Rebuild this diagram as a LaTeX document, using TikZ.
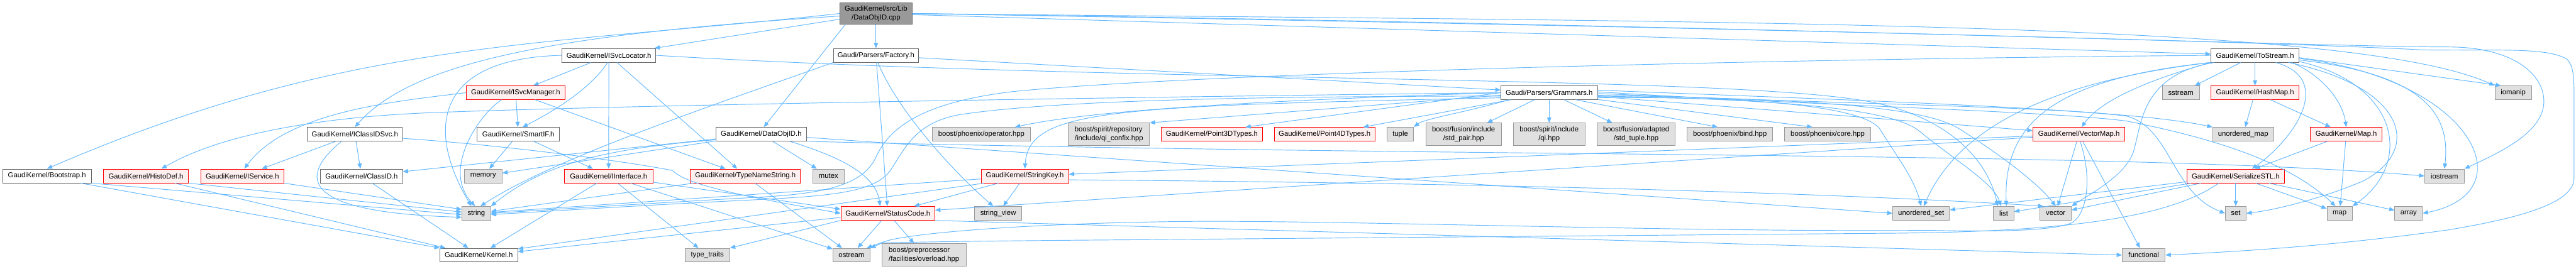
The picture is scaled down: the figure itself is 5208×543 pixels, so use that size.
\documentclass[tikz,border=0pt]{standalone}
\usepackage{fontspec}
\setmainfont{Liberation Sans}
\usetikzlibrary{arrows.meta}
\definecolor{ec}{HTML}{63B8FF}
\definecolor{bw}{HTML}{666666}
\definecolor{rf}{HTML}{FFF0F0}
\definecolor{gf}{HTML}{E0E0E0}
\definecolor{gb}{HTML}{999999}
\definecolor{mf}{HTML}{999999}
\newcommand\nfont{\fontsize{10.8}{12.7}\selectfont}
\tikzset{
  nb/.style={draw, line width=0.9pt, inner sep=0pt, font=\nfont, align=center},
  wst/.style={nb, draw=bw, fill=white},
  rst/.style={nb, draw=red, fill=rf},
  gst/.style={nb, draw=gb, fill=gf},
  mst/.style={nb, draw=bw, fill=mf},
  sz/.style n args={2}{minimum width={#1*0.75pt}, minimum height={#2*0.75pt}},
  edg/.style={draw=ec, line width=0.9pt, -{Triangle[length=8pt,width=6.5pt]}}
}
\begin{document}
\begin{tikzpicture}[x=0.75pt,y=-0.75pt]
\useasboundingbox (0,0) rectangle (5208,543);
\fill[white] (0,0) rectangle (5208,543);
% row 0 / 1 / 2
\node[mst, sz={146}{44.3}] (M) at (1771,27.4) {GaudiKernel/src/Lib\\/DataObjID.cpp};
\node[wst, sz={190}{27.7}] (isl) at (1231,112) {GaudiKernel/ISvcLocator.h};
\node[wst, sz={172}{27.7}] (fac) at (1771,112) {Gaudi/Parsers/Factory.h};
\node[wst, sz={178}{27.7}] (ts) at (4559,112) {GaudiKernel/ToStream.h};
\node[rst, sz={199}{27.4}] (ism) at (1042.5,187.5) {GaudiKernel/ISvcManager.h};
\node[wst, sz={195}{27.4}] (gr) at (3132,187.5) {Gaudi/Parsers/Grammars.h};
\node[gst, sz={75}{27.4}] (sst) at (4409,187.5) {sstream};
\node[rst, sz={178}{27.4}] (hm) at (4559,187.5) {GaudiKernel/HashMap.h};
\node[gst, sz={74}{27.4}] (iom) at (5081,187.5) {iomanip};
% row 3
\node[wst, sz={192}{27.7}] (icid) at (717.5,271.5) {GaudiKernel/IClassIDSvc.h};
\node[wst, sz={166}{27.7}] (sif) at (1048,271.5) {GaudiKernel/SmartIF.h};
\node[wst, sz={184}{27.7}] (doid) at (1539,271.5) {GaudiKernel/DataObjID.h};
\node[gst, sz={199}{27.7}] (bop) at (1984,271.5) {boost/phoenix/operator.hpp};
\node[gst, sz={164}{45}, align=left] (bqc) at (2242,271.5) {boost/spirit/repository\\/include/qi\_confix.hpp};
\node[rst, sz={204}{27.7}] (p3) at (2450,271.5) {GaudiKernel/Point3DTypes.h};
\node[rst, sz={204}{27.7}] (p4) at (2678,271.5) {GaudiKernel/Point4DTypes.h};
\node[gst, sz={54}{27.7}] (tup) at (2831,271.5) {tuple};
\node[gst, sz={153}{45}] (bsp) at (2959,271.5) {boost/fusion/include\\/std\_pair.hpp};
\node[gst, sz={145}{45}] (bqi) at (3132,271.5) {boost/spirit/include\\/qi.hpp};
\node[gst, sz={158}{45}] (bst) at (3308,271.5) {boost/fusion/adapted\\/std\_tuple.hpp};
\node[gst, sz={173}{27.7}] (bbi) at (3497.5,271.5) {boost/phoenix/bind.hpp};
\node[gst, sz={174}{27.7}] (bco) at (3695,271.5) {boost/phoenix/core.hpp};
\node[rst, sz={186}{27.7}] (vm) at (4203,271.5) {GaudiKernel/VectorMap.h};
\node[gst, sz={123}{27.7}] (umap) at (4535,271.5) {unordered\_map};
\node[rst, sz={145}{27.7}] (mapH) at (4743.5,271.5) {GaudiKernel/Map.h};
% row 4
\node[wst, sz={179}{28}] (boot) at (95,356) {GaudiKernel/Bootstrap.h};
\node[rst, sz={172.6}{28}] (hd) at (295,356) {GaudiKernel/HistoDef.h};
\node[rst, sz={168}{28}] (isv) at (490,356) {GaudiKernel/IService.h};
\node[wst, sz={165.5}{28}] (cid) at (731,356) {GaudiKernel/ClassID.h};
\node[gst, sz={76}{28}] (mem) at (977,356) {memory};
\node[rst, sz={179}{28}] (ii) at (1230.5,356) {GaudiKernel/IInterface.h};
\node[rst, sz={223}{28}] (tns) at (1507,356) {GaudiKernel/TypeNameString.h};
\node[gst, sz={63}{28}] (mtx) at (1675,356) {mutex};
\node[rst, sz={177}{28}] (sk) at (2072,356) {GaudiKernel/StringKey.h};
\node[rst, sz={196}{28}] (sstl) at (4520,356) {GaudiKernel/SerializeSTL.h};
\node[gst, sz={80}{28}] (ios) at (4942,356) {iostream};
% row 5
\node[gst, sz={58}{27.7}] (str) at (963,431.5) {string};
\node[rst, sz={190}{27.7}] (sc) at (1795,431.5) {GaudiKernel/StatusCode.h};
\node[gst, sz={96}{27.7}] (sv) at (2018,431.5) {string\_view};
\node[gst, sz={115}{27.7}] (uset) at (3884,431.5) {unordered\_set};
\node[gst, sz={41}{27.7}] (lst) at (4051,431.5) {list};
\node[gst, sz={63}{27.7}] (vec) at (4156,431.5) {vector};
\node[gst, sz={42}{27.7}] (sset) at (4520,431.5) {set};
\node[gst, sz={51}{27.7}] (mmap) at (4730,431.5) {map};
\node[gst, sz={56}{27.7}] (arr) at (4869.5,431.5) {array};
% row 6
\node[wst, sz={157}{27.4}] (ker) at (968,516) {GaudiKernel/Kernel.h};
\node[gst, sz={90.5}{27.4}] (tt) at (1430,516) {type\_traits};
\node[gst, sz={75}{27.4}] (ostr) at (1721.5,516) {ostream};
\node[gst, sz={170}{45}, align=left] (ovl) at (1868,515.5) {boost/preprocessor\\/facilities/overload.hpp};
\node[gst, sz={87}{27.4}] (func) at (4334,516) {functional};

% ---- edges: main file
\draw[edg] (M.west) .. controls (1079,95) and (703,79) .. (boot.north);
\draw[edg] (M.184) .. controls (1100,70) and (830,130) .. (icid.north);
\draw[edg] (M) -- (isl);
\draw[edg] (M.200) -- (doid.70);
\draw[edg] (M) -- (fac);
\draw[edg] (M) -- (ts);
\draw[edg] (M.east) .. controls (3500,45) and (4750,40) .. (iom.north west);
\draw[edg] (M.east) .. controls (3500,50) and (4700,95) .. (4950,95) .. controls (5080,95) and (5145,150) .. (5143,208) .. controls (5140,270) and (5050,310) .. (ios.north east);
\draw[edg] (M.east) .. controls (3500,55) and (4600,85) .. (4900,101) .. controls (5050,103) and (5150,95) .. (5190,120) .. controls (5204,135) and (5204,160) .. (5204,200) -- (5204,360) .. controls (5204,410) and (5100,440) .. (4950,465) .. controls (4700,500) and (4500,510) .. (func.east);
% ISvcLocator
\draw[edg] (isl) -- (ism);
\draw[edg] (isl.260) .. controls (1200,170) and (1140,215) .. (sif.60);
\draw[edg] (isl) -- (ii);
\draw[edg] (isl) -- (tns);
\draw[edg] (isl.west) .. controls (880,118) and (860,260) .. (str.125);
\draw[edg] (isl.east) .. controls (2300,170) and (3550,150) .. (3800,210) .. controls (3950,245) and (4020,330) .. (lst.130);
% ISvcManager
\draw[edg] (ism.west) .. controls (800,205) and (580,225) .. (isv.75);
\draw[edg] (ism) -- (sif);
\draw[edg] (ism) -- (tns);
\draw[edg] (ism.207) .. controls (975,225) and (890,340) .. (str.100);
% IClassIDSvc
\draw[edg] (icid) -- (isv);
\draw[edg] (icid) -- (cid);
\draw[edg] (icid.208) .. controls (600,360) and (610,430) .. (str.195);
\draw[edg] (icid.-5) .. controls (1000,292) and (1260,325) .. (1360,345) .. controls (1390,378) and (1550,405) .. (sc.west);
% Bootstrap, HistoDef, IService, ClassID
\draw[edg] (boot.south east) -- (str.185);
\draw[edg] (boot.-12) -- (ker.north west);
\draw[edg] (hd.south east) -- (str.175);
\draw[edg] (hd.-14) -- (ker.168);
\draw[edg] (isv.south east) -- (str.165);
\draw[edg] (cid) -- (ker);
% SmartIF
\draw[edg] (sif) -- (mem);
\draw[edg] (sif) -- (ii);
% DataObjID.h
\draw[edg] (doid) -- (cid);
\draw[edg] (doid) -- (mem);
\draw[edg] (doid.187) .. controls (1230,300) and (1100,330) .. (str.north east);
\draw[edg] (doid) -- (mtx);
\draw[edg] (doid.-14) .. controls (1690,315) and (1770,350) .. (sc.137);
\draw[edg] (doid.south east) .. controls (3000,320) and (4300,305) .. (ios.west);
\draw[edg] (doid.-4) -- (uset.west);
% Factory
\draw[edg] (fac) -- (gr);
\draw[edg] (fac) -- (sc);
\draw[edg] (fac.-75) .. controls (1815,225) and (1930,350) .. (sv.125);
\draw[edg] (fac.south west) .. controls (1450,210) and (1120,320) .. (str.60);
% StatusCode
\draw[edg] (sc) -- (ostr);
\draw[edg] (sc) -- (ovl);
\draw[edg] (sc.south west) -- (tt.north east);
\draw[edg] (sc.185) -- (ker.5);
\draw[edg] (sc.south east) -- (func.west);
% StringKey
\draw[edg] (sk) -- (sv);
\draw[edg] (sk) -- (sc);
\draw[edg] (sk) -- (str);
\draw[edg] (sk.190) -- (ker.9);
\draw[edg] (sk.-5) .. controls (3000,370) and (3700,390) .. (vec.150);
% IInterface
\draw[edg] (ii) -- (ker);
\draw[edg] (ii) -- (tt);
\draw[edg] (ii) -- (ostr);
\draw[edg] (ii.-8) -- (sc.175);
% TypeNameString
\draw[edg] (tns) -- (str);
\draw[edg] (tns) -- (ostr);
% Grammars
\draw[edg] (gr.west) .. controls (2000,200) and (1200,215) .. (870,228) .. controls (650,237) and (450,270) .. (hd.25);
\draw[edg] (gr.west) -- (p3.12);
\draw[edg] (gr) -- (p4);
\draw[edg] (gr.190) .. controls (2960,228) and (2880,240) .. (tup.north east);
\draw[edg] (gr) -- (bsp);
\draw[edg] (gr) -- (bqi);
\draw[edg] (gr) -- (bst);
\draw[edg] (gr.-15) -- (bbi.150);
\draw[edg] (gr.-8) -- (bco.155);
\draw[edg] (gr.west) .. controls (2500,205) and (2200,225) .. (bop.12);
\draw[edg] (gr.183) -- (bqc.north east);
\draw[edg] (gr.186) .. controls (2250,215) and (2080,220) .. (sk.north);
\draw[edg] (gr) -- (vm);
\draw[edg] (gr.-6) .. controls (3500,195) and (3760,210) .. (3800,260) .. controls (3830,310) and (3870,360) .. (uset.north);
\draw[edg] (gr.-4) .. controls (3550,200) and (3820,215) .. (3880,265) .. controls (3960,330) and (4030,370) .. (lst.110);
\draw[edg] (gr.-3) .. controls (3600,200) and (3880,210) .. (3960,260) .. controls (4040,310) and (4120,370) .. (vec.north);
\draw[edg] (gr.1) .. controls (3700,215) and (4150,225) .. (4300,245) .. controls (4450,275) and (4620,320) .. (mmap.120);
\draw[edg] (gr.-1) .. controls (3700,210) and (4150,215) .. (4300,235) .. controls (4390,260) and (4390,390) .. (sset.west);
\draw[edg] (gr.3) .. controls (3800,205) and (4300,220) .. (umap.north west);
\draw[edg] (gr.184) .. controls (2600,195) and (2150,200) .. (1940,232) .. controls (1850,248) and (1830,300) .. (1800,345) .. controls (1770,385) and (1700,395) .. (1550,403) .. controls (1300,415) and (1100,428) .. (str.-5);
% ToStream
\draw[edg] (ts) -- (sst);
\draw[edg] (ts) -- (hm);
\draw[edg] (ts.-19) .. controls (4720,160) and (4640,280) .. (sstl.24);
\draw[edg] (ts.-11) .. controls (4690,150) and (4735,200) .. (mapH.north);
\draw[edg] (ts.-8) .. controls (4850,170) and (4880,330) .. (mmap.north east);
\draw[edg] (ts.-12) .. controls (4860,175) and (4900,300) .. (4780,365) .. controls (4700,400) and (4600,425) .. (sset.east);
\draw[edg] (ts.-6) .. controls (4900,150) and (4955,230) .. (ios.north);
\draw[edg] (ts.-4) .. controls (5000,160) and (5110,390) .. (arr.east);
\draw[edg] (ts.-3) -- (iom.150);
\draw[edg] (ts.south west) .. controls (4150,160) and (4050,250) .. (lst.70);
\draw[edg] (ts.south west) .. controls (4100,170) and (3950,280) .. (uset.70);
\draw[edg] (ts.south west) .. controls (4350,160) and (4250,200) .. (vm.70);
\draw[edg] (ts.190) .. controls (4330,150) and (4330,250) .. (4315,300) .. controls (4305,350) and (4230,390) .. (vec.north east);
\draw[edg] (ts.west) .. controls (3500,120) and (2400,150) .. (2050,185) .. controls (1880,205) and (1800,250) .. (1770,320) .. controls (1745,370) and (1680,390) .. (1550,398) .. controls (1300,412) and (1100,425) .. (str.east);
% HashMap, Map
\draw[edg] (hm) -- (umap);
\draw[edg] (hm) -- (mapH);
\draw[edg] (mapH) -- (sstl);
\draw[edg] (mapH) -- (mmap);
% SerializeSTL
\draw[edg] (sstl) -- (sset);
\draw[edg] (sstl) -- (mmap);
\draw[edg] (sstl) -- (arr);
\draw[edg] (sstl) -- (uset);
\draw[edg] (sstl) -- (lst);
\draw[edg] (sstl) -- (vec);
\draw[edg] (sstl.203) .. controls (4380,445) and (4150,470) .. (3800,472) -- (2300,485) .. controls (2000,487) and (1850,490) .. (1785,491) -- (ostr.north east);
% VectorMap
\draw[edg] (vm) -- (vec);
\draw[edg] (vm) -- (func);
\draw[edg] (vm.-80) .. controls (4230,360) and (4220,430) .. (4190,450) .. controls (4150,470) and (4000,468) .. (3900,466) .. controls (3400,470) and (2700,445) .. (2400,448) .. controls (2100,451) and (1850,470) .. (1790,488) -- (ostr.25);
\draw[edg] (vm) -- (sk);
\draw[edg] (vm) -- (sc);
\end{tikzpicture}
\end{document}
